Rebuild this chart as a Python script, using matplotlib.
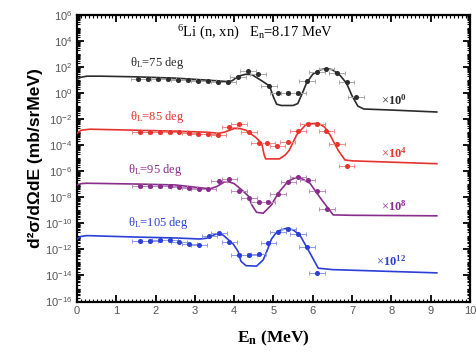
import numpy as np
import matplotlib
matplotlib.use("Agg")
import matplotlib.pyplot as plt
from matplotlib.ticker import LogLocator, MultipleLocator, FixedLocator, NullFormatter

plt.rcParams["mathtext.fontset"] = "custom"
plt.rcParams["mathtext.rm"] = "Liberation Serif"
plt.rcParams["mathtext.it"] = "Liberation Serif:italic"
plt.rcParams["mathtext.bf"] = "Liberation Serif:bold"

# values are stored as log10 of d2sigma/dOmega dE (already multiplied by scale)
curve_75_x = [0.0, 0.1, 0.25, 0.6, 1.5, 2.5, 3.3, 3.85, 3.95, 4.1, 4.3, 4.45, 4.7, 4.9,
              5.0, 5.08, 5.2, 5.5, 5.62, 5.75, 5.84, 6.0, 6.2, 6.35, 6.5, 6.7, 6.86,
              7.0, 7.15, 7.3, 8.0, 9.16]
curve_75_y = [1.07, 1.22, 1.3, 1.3, 1.25, 1.15, 1.0, 0.88, 0.95, 1.3, 1.45, 1.42, 0.95, 0.55,
              -0.3, -0.85, -0.95, -0.95, -0.8, 0.1, 0.76, 1.45, 1.8, 1.88, 1.8, 1.35, 0.76,
              -0.2, -1.0, -1.22, -1.3, -1.45]
data_75_x = [1.56, 1.81, 2.07, 2.32, 2.58, 2.83, 3.09, 3.34, 3.6, 3.85, 4.09, 4.36, 4.61,
             4.89, 5.12, 5.38, 5.63, 5.86, 6.11, 6.35, 6.61, 6.86, 7.1]
data_75_y = [1.09, 1.08, 1.07, 1.05, 1.0, 0.97, 0.95, 0.9, 0.85, 0.83, 1.2, 1.73, 1.45,
             0.58, -0.01, -0.01, -0.01, 0.96, 1.6, 1.86, 1.57, 0.83, -0.32]

curve_85_x = [0.0, 0.1, 0.33, 1.5, 2.5, 3.3, 3.6, 3.75, 4.0, 4.15, 4.3, 4.55, 4.7, 4.76,
              4.8, 5.15, 5.3, 5.4, 5.59, 5.84, 6.14, 6.3, 6.44, 6.65, 6.82, 7.0, 9.16]
curve_85_y = [-3.08, -2.85, -2.77, -2.85, -2.92, -3.0, -3.08, -3.0, -2.72, -2.72, -2.85,
              -3.4, -3.85, -4.7, -5.05, -5.05, -4.75, -4.4, -3.21, -2.37, -2.31, -2.6,
              -3.21, -4.4, -5.13, -5.2, -5.42]
data_85_x = [1.6, 1.86, 2.11, 2.37, 2.6, 2.86, 3.09, 3.34, 3.6, 3.88, 4.12, 4.37, 4.62,
             4.84, 5.1, 5.36, 5.62, 5.87, 6.1, 6.35, 6.61, 6.86]
data_85_y = [-3.0, -3.0, -3.0, -3.0, -3.02, -3.08, -3.13, -3.16, -3.21, -2.62, -2.4, -2.98,
             -3.82, -3.85, -4.05, -3.72, -2.88, -2.37, -2.37, -2.88, -3.92, -5.59]

curve_95_x = [0.0, 0.1, 0.25, 1.5, 2.5, 3.38, 3.55, 3.75, 3.85, 4.0, 4.2, 4.36, 4.45,
              4.57, 4.74, 4.95, 5.12, 5.38, 5.63, 5.93, 6.23, 6.52, 7.0, 9.16]
curve_95_y = [-7.05, -6.95, -6.92, -6.98, -7.05, -7.35, -7.18, -6.82, -6.8, -6.95, -7.45,
              -7.9, -8.6, -9.15, -9.22, -8.58, -7.68, -6.74, -6.41, -6.92, -8.2, -9.35,
              -9.38, -9.42]
data_95_x = [1.6, 1.86, 2.11, 2.37, 2.6, 2.86, 3.11, 3.34, 3.62, 3.88, 4.12, 4.37, 4.62,
             4.85, 5.12, 5.38, 5.63, 5.87, 6.11, 6.37]
data_95_y = [-7.1, -7.1, -7.1, -7.1, -7.18, -7.3, -7.38, -7.35, -6.74, -6.61, -7.55, -8.03,
             -8.35, -8.33, -7.74, -6.79, -6.46, -6.66, -7.48, -8.89]

curve_105_x = [0.0, 0.1, 0.25, 1.5, 2.5, 3.13, 3.3, 3.55, 3.72, 3.98, 4.1, 4.17, 4.3,
               4.57, 4.74, 4.85, 4.95, 5.1, 5.34, 5.5, 5.67, 5.93, 6.14, 6.5, 9.16]
curve_105_y = [-11.2, -11.0, -10.94, -11.05, -11.12, -11.2, -11.14, -10.8, -10.9, -11.6,
               -12.16, -12.9, -13.25, -13.28, -12.8, -12.0, -11.2, -10.6, -10.37, -10.5,
               -10.88, -12.28, -13.44, -13.55, -13.8]
data_105_x = [1.6, 1.86, 2.11, 2.37, 2.6, 2.86, 3.11, 3.37, 3.62, 3.88, 4.13, 4.37, 4.62,
              4.87, 5.12, 5.38, 5.63, 5.86, 6.1]
data_105_y = [-11.32, -11.32, -11.27, -11.27, -11.45, -11.58, -11.65, -10.96, -10.75,
              -11.45, -12.45, -12.45, -12.37, -11.5, -10.68, -10.42, -10.83, -11.78, -13.82]

angles = ["75", "85", "95", "105"]
scales = ["0", "4", "8", "12"]
x_error = 0.2  # MeV

series = [
    (curve_75_x, curve_75_y, data_75_x, data_75_y),
    (curve_85_x, curve_85_y, data_85_x, data_85_y),
    (curve_95_x, curve_95_y, data_95_x, data_95_y),
    (curve_105_x, curve_105_y, data_105_x, data_105_y),
]
line_colors = ["#2b2b2b", "#e8322c", "#8a2c8c", "#2b3fd8"]
bar_colors = ["#a8a8a8", "#f08a86", "#c08ac2", "#8e9aec"]
label_pos = [(1.35, 2.3), (1.35, -1.85), (1.3, -5.9), (1.3, -9.95)]
scale_pos = [(7.75, -0.55), (7.75, -4.6), (7.75, -8.7), (7.62, -12.9)]

fig = plt.figure(figsize=(4.76, 3.56), dpi=100)
ax = fig.add_axes([0.162, 0.153, 0.825, 0.805])

for i, (cx, cy, dx, dy) in enumerate(series):
    c = line_colors[i]
    ax.plot(cx, 10 ** np.array(cy), color=c, lw=1.2, zorder=3)
    ax.errorbar(dx, 10 ** np.array(dy), xerr=x_error, fmt="o", ms=2.6, color=c,
                ecolor=bar_colors[i], elinewidth=0.7, capsize=1.5, capthick=0.7,
                zorder=4)
    lx, ly = label_pos[i]
    ax.text(lx, 10 ** ly, "\u03b8$_{\\mathrm{L}}$=" + angles[i] + " deg", color=c,
            fontsize=9, family="Liberation Serif", va="center")
    sx, sy = scale_pos[i]
    ax.text(sx, 10 ** sy, r"$\times\mathbf{10^{" + scales[i] + "}}$", color=c,
            fontsize=9, family="Liberation Serif", va="center")

ax.text(2.55, 10 ** 4.6, r"$^{6}$Li (n, xn)   E$_{\mathrm{n}}$=8.17 MeV", fontsize=10.5,
        family="Liberation Serif", va="center")

ax.set_yscale("log")
ax.set_xlim(0, 10)
ax.set_ylim(1e-16, 1e6)
ax.xaxis.set_major_locator(MultipleLocator(1))
ax.xaxis.set_minor_locator(MultipleLocator(0.1))
ax.yaxis.set_major_locator(FixedLocator([10.0 ** k for k in range(-16, 7, 2)]))
ax.yaxis.set_minor_locator(LogLocator(base=10, subs=np.arange(1, 10), numticks=40))
ax.yaxis.set_minor_formatter(NullFormatter())
ax.tick_params(which="both", direction="in", top=True, right=True,
               labelsize=8, labelcolor="#555555", labelfontfamily="Liberation Sans")
ax.tick_params(which="major", length=5, width=1.3)
ax.tick_params(which="minor", length=2.5, width=0.8)
for s in ax.spines.values():
    s.set_linewidth(1.6)

ax.set_xlabel(r"$\mathbf{E_n}$ (MeV)", fontsize=12.5, family="Liberation Serif",
              fontweight="bold", labelpad=9)
ax.set_ylabel("d\u00b2\u03c3/d\u03a9dE (mb/srMeV)", fontsize=12.5,
              family="Liberation Sans", fontweight="bold", labelpad=1)

fig.savefig("out.png", dpi=100)
